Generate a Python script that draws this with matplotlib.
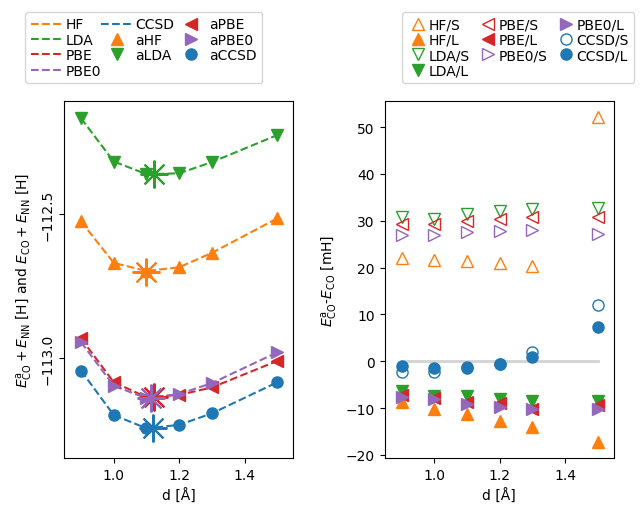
import matplotlib
matplotlib.use("Agg")
import matplotlib.pyplot as plt
import numpy as np

d = [0.9, 1.0, 1.1, 1.2, 1.3, 1.5]

# Left panel: total energies [H]
aHF = [-112.525, -112.669, -112.697, -112.684, -112.634, -112.514]
aLDA = [-112.167, -112.317, -112.361, -112.358, -112.319, -112.225]
aPBE = [-112.931, -113.083, -113.135, -113.127, -113.101, -113.009]
aPBE0 = [-112.944, -113.095, -113.139, -113.124, -113.086, -112.979]
aCCSD = [-113.043, -113.197, -113.243, -113.231, -113.191, -113.083]

# minima of the reference curves (d, E)
min_HF = (1.098, -112.699)
min_LDA = (1.122, -112.360)
min_PBE = (1.123, -113.135)
min_PBE0 = (1.113, -113.137)
min_CCSD = (1.119, -113.243)

# Right panel: differences [mH]
HF_S = [22.0, 21.6, 21.4, 21.0, 20.4, 52.1]
HF_L = [-8.8, -10.1, -11.3, -12.7, -14.1, -17.2]
LDA_S = [30.9, 30.3, 31.5, 32.0, 32.4, 32.7]
LDA_L = [-6.3, -7.4, -7.4, -8.1, -8.4, -8.6]
PBE_S = [29.2, 29.3, 30.0, 30.3, 30.7, 30.7]
PBE_L = [-7.2, -7.9, -8.8, -9.0, -10.1, -9.3]
PBE0_S = [27.0, 27.0, 27.5, 27.8, 28.0, 27.2]
PBE0_L = [-7.6, -8.1, -9.1, -9.8, -10.3, -10.3]
CCSD_S = [-2.2, -2.2, -1.3, -0.5, 1.9, 11.9]
CCSD_L = [-1.1, -1.4, -1.5, -0.6, 0.8, 7.4]

C = {"HF": "#ff7f0e", "LDA": "#2ca02c", "PBE": "#d62728", "PBE0": "#9467bd", "CCSD": "#1f77b4"}

fig, (ax1, ax2) = plt.subplots(1, 2, figsize=(6.44, 5.10), dpi=100)
fig.subplots_adjust(left=0.0994, right=0.9534, top=0.8, bottom=0.1, wspace=0.397)

ms = 8
star = (8, 2, 0)
# lines
ax1.plot(d, aHF, "--", color=C["HF"], label="HF")
ax1.plot(d, aLDA, "--", color=C["LDA"], label="LDA")
ax1.plot(d, aPBE, "--", color=C["PBE"], label="PBE")
ax1.plot(d, aPBE0, "--", color=C["PBE0"], label="PBE0")
ax1.plot(d, aCCSD, "--", color=C["CCSD"], label="CCSD")
# markers
ax1.plot(d, aHF, "^", color=C["HF"], ms=ms, ls="none", label="aHF")
ax1.plot(d, aLDA, "v", color=C["LDA"], ms=ms, ls="none", label="aLDA")
ax1.plot(d, aPBE, "<", color=C["PBE"], ms=ms, ls="none", label="aPBE")
ax1.plot(d, aPBE0, ">", color=C["PBE0"], ms=ms, ls="none", label="aPBE0")
ax1.plot(d, aCCSD, "o", color=C["CCSD"], ms=ms, ls="none", label="aCCSD")
# minima
for (mx, my), k in [(min_HF, "HF"), (min_LDA, "LDA"), (min_PBE, "PBE"),
                    (min_PBE0, "PBE0"), (min_CCSD, "CCSD")]:
    ax1.plot([mx], [my], marker=star, ms=20, mew=1.5, color=C[k], ls="none")

ax1.set_xlim(0.848, 1.549)
ax1.set_ylim(-113.346, -112.107)
ax1.set_yticks([-113.0, -112.5])
ax1.set_yticklabels(["\u2212113.0", "\u2212112.5"], rotation=90, va="center")
ax1.set_xticks([1.0, 1.2, 1.4])
ax1.set_xlabel("d [Å]")
ax1.set_ylabel(r"$E^{\mathrm{a}}_{\mathrm{CO}} + E_{\mathrm{NN}}$ [H] and $E_{\mathrm{CO}} + E_{\mathrm{NN}}$ [H]")

ax1.legend(ncol=3, loc="lower left", bbox_to_anchor=(-0.17, 1.05), borderaxespad=0,
           handletextpad=0.1, columnspacing=0.0, labelspacing=0.1, handlelength=2.4)

# right panel
ax2.plot([d[0], d[-1]], [0, 0], color="lightgray", lw=2, zorder=0)
ax2.plot(d, HF_S, "^", mfc="none", mec=C["HF"], ms=ms, ls="none", label="HF/S")
ax2.plot(d, HF_L, "^", color=C["HF"], ms=ms, ls="none", label="HF/L")
ax2.plot(d, LDA_S, "v", mfc="none", mec=C["LDA"], ms=ms, ls="none", label="LDA/S")
ax2.plot(d, LDA_L, "v", color=C["LDA"], ms=ms, ls="none", label="LDA/L")
ax2.plot(d, PBE_S, "<", mfc="none", mec=C["PBE"], ms=ms, ls="none", label="PBE/S")
ax2.plot(d, PBE_L, "<", color=C["PBE"], ms=ms, ls="none", label="PBE/L")
ax2.plot(d, PBE0_S, ">", mfc="none", mec=C["PBE0"], ms=ms, ls="none", label="PBE0/S")
ax2.plot(d, PBE0_L, ">", color=C["PBE0"], ms=ms, ls="none", label="PBE0/L")
ax2.plot(d, CCSD_S, "o", mfc="none", mec=C["CCSD"], ms=ms, ls="none", label="CCSD/S")
ax2.plot(d, CCSD_L, "o", color=C["CCSD"], ms=ms, ls="none", label="CCSD/L")

ax2.set_xlim(0.848, 1.549)
ax2.set_xticks([1.0, 1.2, 1.4])
ax2.set_xlabel("d [Å]")
ax2.set_ylabel(r"$E^{\mathrm{a}}_{\mathrm{CO}}$-$E_{\mathrm{CO}}$ [mH]")
ax2.legend(ncol=3, loc="lower left", bbox_to_anchor=(0.075, 1.05), borderaxespad=0,
           handletextpad=0.0, columnspacing=0.6, labelspacing=0.1, handlelength=1.5)

fig.savefig("out.png", dpi=100)
